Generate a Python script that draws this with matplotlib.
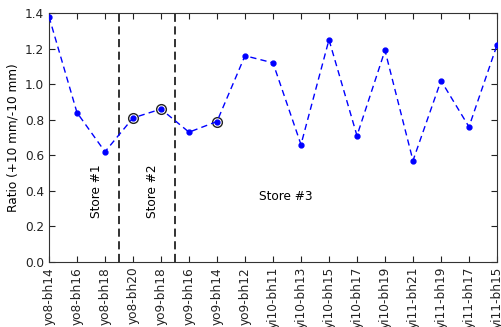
import matplotlib
matplotlib.use("Agg")
import matplotlib.pyplot as plt

# sample labels and measured ratios
samples = ["yo8-bh14", "yo8-bh16", "yo8-bh18", "yo8-bh20", "yo9-bh18", "yo9-bh16",
           "yo9-bh14", "yo9-bh12", "yi10-bh11", "yi10-bh13", "yi10-bh15", "yi10-bh17",
           "yi10-bh19", "yi11-bh21", "yi11-bh19", "yi11-bh17", "yi11-bh15"]
ratios = [1.38, 0.84, 0.62, 0.81, 0.86, 0.73, 0.79, 1.16, 1.12, 0.66, 1.25, 0.71,
          1.19, 0.57, 1.02, 0.76, 1.22]
flagged = [3, 4, 6]
store_breaks = [2.5, 4.5]
store_names = ["Store #1", "Store #2", "Store #3"]

plt.rcParams["font.size"] = 8.7
fig = plt.figure(figsize=(5.02, 3.27), dpi=100)
ax = fig.add_axes([0.0976, 0.199, 0.8924, 0.761])

x = list(range(len(samples)))
line, = ax.plot(x, ratios, "b--", marker="o", markersize=3.5, linewidth=1, zorder=3)
line.set_dashes((4.5, 3))
ax.plot([x[i] for i in flagged], [ratios[i] for i in flagged], "o",
        markerfacecolor="none", markeredgecolor="#222222", markersize=7,
        markeredgewidth=1, zorder=2)

for xb in store_breaks:
    ax.axvline(xb, color="#222222", linestyle="--", linewidth=1.3, dashes=(4.5, 2.5))

ax.text(1.68, 0.40, store_names[0], rotation=90, ha="center", va="center")
ax.text(3.68, 0.40, store_names[1], rotation=90, ha="center", va="center")
ax.text(7.5, 0.37, store_names[2], ha="left", va="center")

ax.set_xlim(0, len(samples) - 1)
ax.set_ylim(0, 1.4)
ax.set_xticks(x)
ax.set_xticklabels(samples, rotation=90)
ax.set_yticks([0.0, 0.2, 0.4, 0.6, 0.8, 1.0, 1.2, 1.4])
ax.set_ylabel("Ratio (+10 mm/-10 mm)")
ax.tick_params(direction="in", top=True, right=True, length=4, colors="#222222")
for s in ax.spines.values():
    s.set_color("#333333")

fig.savefig("out.png", dpi=100)
